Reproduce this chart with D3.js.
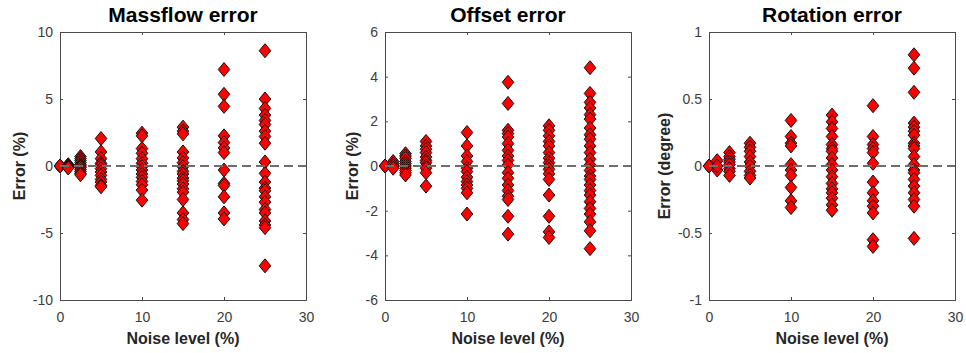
<!DOCTYPE html>
<html>
<head>
<meta charset="utf-8">
<script src="https://cdn.jsdelivr.net/npm/d3@7"></script>
<style>
  html, body { margin: 0; padding: 0; background: #fff; }
  svg { display: block; font-family: "Liberation Sans", Arial, Helvetica, sans-serif; }
</style>
</head>
<body>
<svg id="chart" width="966" height="353"></svg>
<script>
// Noise levels (%) shared by all three panels
const noiseLevels = [0, 1, 2.5, 5, 10, 15, 20, 25];
const xTicks = [0, 10, 20, 30];

// Massflow error (%) per noise level
const massflowError = [
  [0, 0, 0],
  [0.1, 0.05, 0, -0.05, -0.1, -0.15],
  [0.7, 0.55, 0.4, 0.25, 0.1, 0, -0.1, -0.25, -0.4, -0.55, -0.65],
  [2.05, 1.05, 0.55, 0.2, 0.05, -0.2, -0.45, -0.7, -1.0, -1.2, -1.45, -1.55],
  [2.45, 2.25, 1.3, 0.95, 0.55, 0.2, -0.05, -0.3, -0.6, -0.85, -1.15, -1.4, -1.8, -2.55],
  [2.9, 2.6, 2.4, 1.05, 0.6, 0.25, -0.05, -0.4, -0.6, -0.9, -1.1, -1.35, -1.7, -1.95, -2.5, -3.5, -4.0, -4.3],
  [7.2, 5.35, 4.45, 2.25, 1.75, 1.35, 1.0, -0.3, -1.3, -1.45, -2.3, -3.5, -3.95],
  [8.6, 5.0, 4.3, 3.8, 3.4, 3.1, 2.6, 2.2, 1.7, 0.3, -0.55, -1.2, -1.65, -1.85, -2.3, -2.7, -3.25, -3.5, -4.1, -4.4, -4.6, -7.45]
];
const massflowTicks = [-10, -5, 0, 5, 10];

// Offset error (%) per noise level
const offsetError = [
  [0, 0],
  [0.2, 0.1, 0.0, -0.1],
  [0.55, 0.45, 0.35, 0.2, 0.1, 0, -0.1, -0.2, -0.3, -0.4],
  [1.1, 0.9, 0.75, 0.6, 0.4, 0.25, 0.15, 0, -0.1, -0.3, -0.9],
  [1.5, 0.9, 0.45, 0.2, -0.1, -0.25, -0.5, -0.7, -0.85, -1.0, -1.2, -2.15],
  [3.75, 2.8, 1.6, 1.45, 1.3, 1.0, 0.7, 0.45, 0.25, 0.05, -0.3, -0.55, -0.85, -1.1, -1.35, -1.5, -2.25, -3.05],
  [1.8, 1.6, 1.35, 1.1, 0.9, 0.6, 0.35, 0.15, 0, -0.15, -0.35, -0.6, -1.3, -2.25, -2.95, -3.2],
  [4.4, 3.25, 2.85, 2.6, 2.3, 2.1, 1.7, 1.4, 1.2, 0.9, 0.6, 0.3, 0.05, -0.2, -0.45, -0.6, -0.85, -1.1, -1.3, -1.6, -1.9, -2.15, -2.5, -2.9, -3.7]
];
const offsetTicks = [-6, -4, -2, 0, 2, 4, 6];

// Rotation error (degree) per noise level
const rotationError = [
  [0, 0],
  [0.04, -0.03, 0.0],
  [0.1, 0.07, 0.05, 0.03, 0.01, -0.02, -0.04, -0.07],
  [0.17, 0.14, 0.11, 0.07, 0.03, 0.0, -0.04, -0.07, -0.09],
  [0.34, 0.22, 0.17, 0.15, 0.01, -0.03, -0.07, -0.16, -0.26, -0.31],
  [0.38, 0.33, 0.28, 0.22, 0.16, 0.13, 0.11, 0.06, 0.01, -0.03, -0.08, -0.13, -0.17, -0.2, -0.24, -0.29, -0.33],
  [0.45, 0.22, 0.16, 0.13, 0.1, 0.02, -0.12, -0.2, -0.26, -0.3, -0.35, -0.55, -0.6],
  [0.83, 0.73, 0.55, 0.32, 0.29, 0.26, 0.23, 0.17, 0.15, 0.13, 0.07, 0.01, -0.03, -0.05, -0.1, -0.15, -0.2, -0.25, -0.3, -0.54]
];
const rotationTicks = [-1, -0.5, 0, 0.5, 1];

const panels = [
  { title: "Massflow error", yLabel: "Error (%)", values: massflowError, ticks: massflowTicks, left: 60 },
  { title: "Offset error", yLabel: "Error (%)", values: offsetError, ticks: offsetTicks, left: 385 },
  { title: "Rotation error", yLabel: "Error (degree)", values: rotationError, ticks: rotationTicks, left: 709 }
];

const plotW = 246, plotTop = 32, plotBottom = 300;
const axisColor = "#4a4a4a", textColor = "#3c3c3c";
const svg = d3.select("#chart");

panels.forEach(p => {
  const x = d3.scaleLinear().domain([0, 30]).range([p.left, p.left + plotW]);
  const y = d3.scaleLinear().domain(d3.extent(p.ticks)).range([plotBottom, plotTop]);
  const g = svg.append("g");

  // inward ticks on all four sides
  const tl = 3;
  const axB = g.append("g").attr("transform", `translate(0,${plotBottom})`)
    .call(d3.axisBottom(x).tickValues(xTicks).tickSize(-tl).tickPadding(12).tickFormat(d3.format("d")));
  const axT = g.append("g").attr("transform", `translate(0,${plotTop})`)
    .call(d3.axisTop(x).tickValues(xTicks).tickSize(-tl).tickFormat(""));
  const axL = g.append("g").attr("transform", `translate(${p.left},0)`)
    .call(d3.axisLeft(y).tickValues(p.ticks).tickSize(-tl).tickPadding(7).tickFormat(d => String(d)));
  const axR = g.append("g").attr("transform", `translate(${p.left + plotW},0)`)
    .call(d3.axisRight(y).tickValues(p.ticks).tickSize(-tl).tickFormat(""));
  [axB, axT, axL, axR].forEach(a => {
    a.select(".domain").attr("stroke", axisColor).attr("stroke-width", 1);
    a.selectAll(".tick line").attr("stroke", axisColor);
    a.selectAll(".tick text").attr("fill", textColor).attr("font-size", 14)
      .attr("font-family", "Liberation Sans, Arial, sans-serif");
  });

  // markers: red diamonds, black edge
  const pts = [];
  noiseLevels.forEach((lvl, i) => p.values[i].forEach(v => pts.push([lvl, v])));
  const hw = 5.8, hh = 7;
  g.append("g").selectAll("path").data(pts).join("path")
    .attr("d", d => {
      const cx = x(d[0]), cy = y(d[1]);
      return `M${cx},${cy - hh}L${cx + hw},${cy}L${cx},${cy + hh}L${cx - hw},${cy}Z`;
    })
    .attr("fill", "#ff0000").attr("stroke", "#111").attr("stroke-width", 1);

  // zero reference line
  g.append("line")
    .attr("x1", x(0)).attr("x2", x(30)).attr("y1", y(0)).attr("y2", y(0))
    .attr("stroke", "#6e6e6e").attr("stroke-width", 2).attr("stroke-dasharray", "9,5");

  // title
  g.append("text").attr("x", p.left + plotW / 2).attr("y", 22)
    .attr("text-anchor", "middle").attr("font-size", 21).attr("font-weight", "bold")
    .attr("fill", "#000").text(p.title);

  // x label
  g.append("text").attr("x", p.left + plotW / 2).attr("y", 344)
    .attr("text-anchor", "middle").attr("font-size", 16).attr("font-weight", "bold")
    .attr("fill", "#262626").text("Noise level (%)");

  // y label, placed just beyond the widest tick label
  const tickW = d3.max(axL.selectAll(".tick text").nodes(), n => n.getComputedTextLength());
  const lx = p.left - 7 - tickW - 8;
  g.append("text").attr("transform", `translate(${lx},${(plotTop + plotBottom) / 2}) rotate(-90)`)
    .attr("text-anchor", "middle").attr("font-size", 16).attr("font-weight", "bold")
    .attr("fill", "#262626").text(p.yLabel);
});
</script>
</body>
</html>
